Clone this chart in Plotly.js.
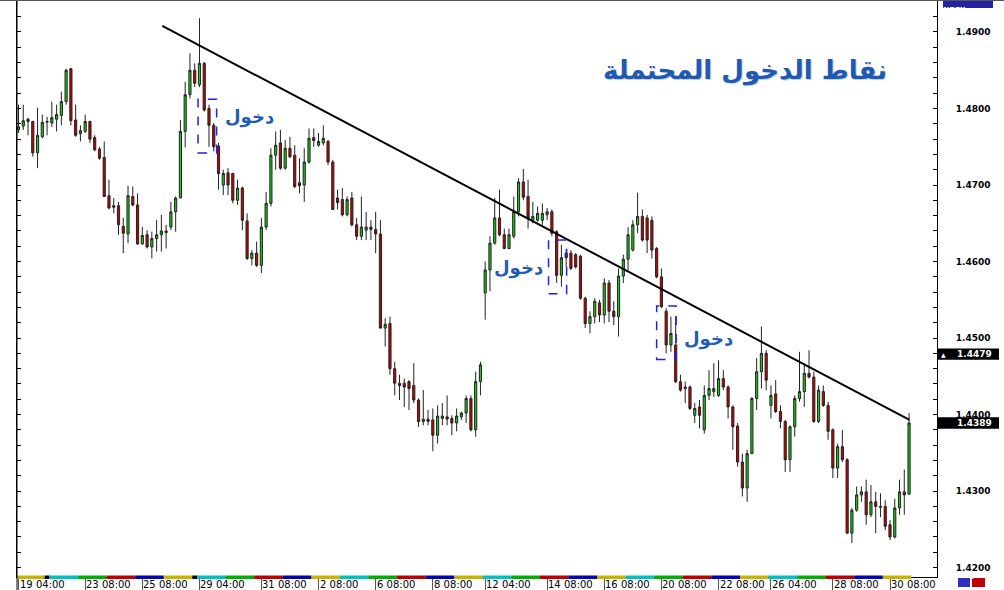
<!DOCTYPE html>
<html><head><meta charset="utf-8">
<script src="https://cdn.plot.ly/plotly-3.0.1.min.js"></script>
<style>html,body{margin:0;padding:0;background:#fff;}#chart{width:1004px;height:590px;}</style>
</head><body><div id="chart"></div>
<script>
// ---- data (H4 candles) ----
const openP = [
1.4772,1.4777,1.4786,1.4783,1.4742,1.4763,1.4782,1.4781,1.4786,1.4791,
1.4809,1.4852,1.4785,1.4767,1.4770,1.4783,1.4762,1.4747,1.4736,1.4686,
1.4673,1.4673,1.4646,1.4636,1.4685,1.4674,1.4623,1.4635,1.4619,1.4630,
1.4635,1.4640,1.4645,1.4665,1.4683,1.4770,1.4818,1.4850,1.4831,1.4859,
1.4800,1.4778,1.4751,1.4700,1.4716,1.4715,1.4680,1.4696,1.4653,1.4604,
1.4611,1.4595,1.4645,1.4676,1.4739,1.4755,1.4722,1.4748,1.4739,1.4703,
1.4700,1.4730,1.4762,1.4752,1.4755,1.4757,1.4730,1.4683,1.4681,1.4661,
1.4683,1.4648,1.4633,1.4641,1.4645,1.4642,1.4636,1.4513,1.4519,1.4460,
1.4441,1.4441,1.4443,1.4438,1.4419,1.4391,1.4394,1.4393,1.4373,1.4395,
1.4397,1.4395,1.4389,1.4397,1.4402,1.4421,1.4380,1.4443,1.4559,1.4589,
1.4624,1.4657,1.4635,1.4617,1.4633,1.4665,1.4704,1.4685,1.4654,1.4654,
1.4654,1.4661,1.4665,1.4639,1.4582,1.4611,1.4611,1.4609,1.4607,1.4552,
1.4519,1.4528,1.4546,1.4530,1.4572,1.4535,1.4528,1.4581,1.4603,1.4615,
1.4648,1.4659,1.4657,1.4654,1.4617,1.4580,1.4535,1.4491,1.4491,1.4443,
1.4436,1.4436,1.4399,1.4410,1.4380,1.4425,1.4430,1.4425,1.4447,1.4436,
1.4410,1.4385,1.4338,1.4304,1.4349,1.4421,1.4456,1.4480,1.4412,1.4427,
1.4404,1.4391,1.4341,1.4384,1.4421,1.4430,1.4454,1.4449,1.4391,1.4430,
1.4412,1.4380,1.4330,1.4358,1.4341,1.4245,1.4275,1.4295,1.4299,1.4269,
1.4286,1.4280,1.4280,1.4256,1.4240,1.4278,1.4299,1.4296];
const highP = [
1.4805,1.4805,1.4788,1.4784,1.4801,1.4792,1.4789,1.4809,1.4805,1.4822,
1.4852,1.4853,1.4805,1.4778,1.4792,1.4784,1.4765,1.4750,1.4757,1.4707,
1.4683,1.4678,1.4657,1.4699,1.4698,1.4689,1.4645,1.4641,1.4639,1.4654,
1.4661,1.4648,1.4678,1.4685,1.4785,1.4835,1.4872,1.4859,1.4918,1.4861,
1.4805,1.4781,1.4755,1.4720,1.4722,1.4716,1.4707,1.4698,1.4663,1.4615,
1.4626,1.4657,1.4691,1.4748,1.4770,1.4772,1.4759,1.4763,1.4752,1.4735,
1.4748,1.4774,1.4774,1.4768,1.4778,1.4759,1.4733,1.4694,1.4696,1.4685,
1.4691,1.4657,1.4685,1.4665,1.4654,1.4665,1.4654,1.4526,1.4528,1.4469,
1.4452,1.4447,1.4445,1.4467,1.4421,1.4432,1.4406,1.4408,1.4412,1.4415,
1.4425,1.4399,1.4408,1.4404,1.4425,1.4425,1.4456,1.4469,1.4600,1.4633,
1.4683,1.4694,1.4643,1.4643,1.4685,1.4709,1.4721,1.4707,1.4678,1.4672,
1.4676,1.4670,1.4668,1.4641,1.4622,1.4615,1.4615,1.4611,1.4609,1.4554,
1.4535,1.4552,1.4550,1.4578,1.4576,1.4548,1.4591,1.4609,1.4645,1.4654,
1.4690,1.4668,1.4661,1.4659,1.4619,1.4591,1.4539,1.4528,1.4528,1.4452,
1.4443,1.4438,1.4415,1.4419,1.4438,1.4458,1.4467,1.4471,1.4458,1.4438,
1.4412,1.4389,1.4349,1.4354,1.4423,1.4474,1.4515,1.4484,1.4438,1.4445,
1.4412,1.4393,1.4386,1.4425,1.4482,1.4467,1.4484,1.4456,1.4438,1.4438,
1.4417,1.4382,1.4362,1.4380,1.4343,1.4278,1.4306,1.4306,1.4315,1.4308,
1.4299,1.4297,1.4288,1.4262,1.4290,1.4315,1.4328,1.4402];
const lowP = [
1.4768,1.4772,1.4765,1.4737,1.4722,1.4761,1.4765,1.4776,1.4770,1.4778,
1.4805,1.4778,1.4763,1.4757,1.4768,1.4755,1.4744,1.4733,1.4685,1.4668,
1.4663,1.4635,1.4611,1.4624,1.4672,1.4622,1.4622,1.4617,1.4604,1.4613,
1.4613,1.4617,1.4641,1.4639,1.4683,1.4749,1.4813,1.4828,1.4828,1.4796,
1.4750,1.4744,1.4694,1.4687,1.4687,1.4676,1.4674,1.4641,1.4602,1.4595,
1.4593,1.4585,1.4641,1.4672,1.4720,1.4720,1.4720,1.4735,1.4696,1.4689,
1.4678,1.4728,1.4750,1.4750,1.4752,1.4726,1.4668,1.4668,1.4659,1.4659,
1.4646,1.4628,1.4628,1.4628,1.4628,1.4611,1.4513,1.4489,1.4452,1.4425,
1.4419,1.4410,1.4406,1.4415,1.4384,1.4386,1.4386,1.4352,1.4362,1.4386,
1.4386,1.4373,1.4378,1.4393,1.4389,1.4378,1.4371,1.4425,1.4524,1.4561,
1.4622,1.4633,1.4616,1.4616,1.4630,1.4659,1.4680,1.4643,1.4650,1.4652,
1.4648,1.4654,1.4633,1.4572,1.4567,1.4593,1.4589,1.4591,1.4550,1.4513,
1.4506,1.4519,1.4521,1.4519,1.4521,1.4517,1.4502,1.4572,1.4589,1.4613,
1.4637,1.4626,1.4611,1.4604,1.4578,1.4539,1.4480,1.4482,1.4441,1.4430,
1.4415,1.4406,1.4389,1.4382,1.4375,1.4419,1.4423,1.4423,1.4432,1.4395,
1.4354,1.4332,1.4293,1.4286,1.4349,1.4406,1.4434,1.4432,1.4395,1.4402,
1.4382,1.4325,1.4325,1.4371,1.4417,1.4410,1.4447,1.4389,1.4389,1.4410,
1.4367,1.4317,1.4317,1.4338,1.4245,1.4232,1.4273,1.4286,1.4256,1.4266,
1.4245,1.4266,1.4249,1.4236,1.4238,1.4269,1.4269,1.4296];
const closeP = [
1.4776,1.4784,1.4783,1.4742,1.4765,1.4782,1.4783,1.4788,1.4792,1.4809,
1.4850,1.4784,1.4765,1.4771,1.4783,1.4760,1.4746,1.4735,1.4685,1.4670,
1.4671,1.4648,1.4637,1.4686,1.4674,1.4623,1.4634,1.4619,1.4630,1.4635,
1.4640,1.4638,1.4665,1.4683,1.4770,1.4818,1.4850,1.4833,1.4859,1.4798,
1.4778,1.4750,1.4715,1.4715,1.4700,1.4680,1.4696,1.4654,1.4604,1.4611,
1.4595,1.4645,1.4676,1.4739,1.4752,1.4722,1.4748,1.4737,1.4698,1.4699,
1.4730,1.4761,1.4758,1.4757,1.4761,1.4730,1.4668,1.4677,1.4661,1.4681,
1.4648,1.4633,1.4645,1.4645,1.4642,1.4636,1.4513,1.4518,1.4460,1.4441,
1.4438,1.4436,1.4434,1.4419,1.4391,1.4394,1.4391,1.4373,1.4398,1.4398,
1.4394,1.4389,1.4398,1.4402,1.4421,1.4380,1.4443,1.4465,1.4589,1.4624,
1.4657,1.4635,1.4617,1.4635,1.4665,1.4704,1.4684,1.4657,1.4659,1.4663,
1.4663,1.4665,1.4637,1.4582,1.4605,1.4605,1.4591,1.4593,1.4552,1.4519,
1.4528,1.4548,1.4530,1.4572,1.4535,1.4528,1.4581,1.4603,1.4635,1.4648,
1.4659,1.4628,1.4628,1.4615,1.4580,1.4541,1.4491,1.4506,1.4443,1.4432,
1.4434,1.4408,1.4408,1.4399,1.4425,1.4434,1.4434,1.4447,1.4436,1.4410,
1.4384,1.4338,1.4304,1.4349,1.4421,1.4456,1.4480,1.4445,1.4425,1.4404,
1.4391,1.4341,1.4384,1.4421,1.4430,1.4454,1.4449,1.4391,1.4432,1.4412,
1.4378,1.4330,1.4358,1.4341,1.4245,1.4275,1.4295,1.4299,1.4269,1.4286,
1.4280,1.4279,1.4254,1.4240,1.4278,1.4299,1.4295,1.4389];

const timeLabels = ["19 04:00","23 08:00","25 08:00","29 04:00","31 08:00","2 08:00","6 08:00","8 08:00",
  "12 04:00","14 08:00","16 08:00","20 08:00","22 08:00","26 04:00","28 08:00","30 08:00"];
const timeLabelIndex = [0,14,26,38,51,63,75,87,98,111,123,135,147,158,171,183];
const priceTicks = [1.42,1.43,1.44,1.45,1.46,1.47,1.48,1.49];

// day-of-week sessions (colour strip), candles per session
const sessionColors = ['Y','K','C','G','R','B','Y','K','C','G','R','B',
  'Y','C','G','R','B','Y','C','G','R','B','Y','C','G','R','B','Y','C','G','R','B','Y'];
const sessionLengths = [6,1,6,6,6,6,6,1,6,6,6,6, 6,6,6,6,6,6,6,6,6,6,6,6,6,6,6,6,6,6,6,6,6];

const trendX = [30.2, 187.1];
const trendY = [1.4908, 1.4393];

const entryX0 = [37.7, 111.3, 134.0];
const entryX1 = [41.6, 115.1, 138.1];
const entryYTop = [1.4812, 1.4628, 1.4542];
const entryYBot = [1.4742, 1.4558, 1.4472];
const entryLabel = 'دخول';
const entryLabelX = [48.6, 105.0, 144.8];
const entryLabelY = [1.4789, 1.4592, 1.4499];

const chartTitle = 'نقاط الدخول المحتملة';
const titleX = 152.6, titleY = 1.4850;

const priceMarkers = [1.4479, 1.4389];
const symbolTag = 'INDEX';

// ---- drawing ----
const idx = closeP.map((_, i) => i);
const colorMap = {Y:'#c8b400', K:'#000000', C:'#00c0c0', G:'#00b000', R:'#c00000', B:'#0000b4'};
const plotH = 576, plotW = 920;

const shapes = [];
const annotations = [];

// colour strip
let start = 0;
sessionColors.forEach((c, k) => {
  const n = sessionLengths[k];
  shapes.push({type:'rect', xref:'x', yref:'paper', x0:start-0.5, x1:start+n-0.5,
    y0:-2/plotH, y1:1.5/plotH, fillcolor:colorMap[c], line:{width:0}, layer:'above'});
  start += n;
});

// entry boxes
entryX0.forEach((x0, k) => {
  shapes.push({type:'rect', xref:'x', yref:'y', x0:x0, x1:entryX1[k], y0:entryYBot[k], y1:entryYTop[k],
    line:{color:'#2020f0', width:1.5, dash:'dash'}, fillcolor:'rgba(0,0,0,0)', layer:'above'});
  annotations.push({x:entryLabelX[k], y:entryLabelY[k], xref:'x', yref:'y', text:entryLabel, showarrow:false,
    font:{family:'DejaVu Sans', size:18, weight:'bold', color:'#1f5db4'}});
});

// title
annotations.push({x:titleX, y:titleY, xref:'x', yref:'y', text:chartTitle, showarrow:false,
  font:{family:'DejaVu Sans', size:26, weight:'bold', color:'#1e5aaf', shadow:'1px 1px 1px #b8c8e8'}});

// time labels
timeLabels.forEach((t, k) => {
  annotations.push({x:timeLabelIndex[k], y:0, xref:'x', yref:'paper', xanchor:'left', yanchor:'middle',
    xshift:0, yshift:-7, borderpad:0, text:t, showarrow:false, font:{family:'DejaVu Sans', size:10, color:'#000'}});
});

// price markers on axis
priceMarkers.forEach((p, k) => {
  shapes.push({type:'rect', xref:'paper', yref:'y', x0:1+1/plotW, x1:1+62/plotW, y0:p-0.00075, y1:p+0.00075,
    fillcolor:'#000', line:{width:0}, layer:'above'});
  annotations.push({x:1, y:p, xref:'paper', yref:'y', xanchor:'left', xshift:18, text:p.toFixed(4), showarrow:false,
    font:{family:'DejaVu Sans', size:9, weight:'bold', color:'#fff'}});
  if (k === 0) annotations.push({x:1, y:p, xref:'paper', yref:'y', xanchor:'left', xshift:2, text:'▲', showarrow:false,
    font:{family:'DejaVu Sans', size:6, color:'#fff'}});
});

// INDEX tag
shapes.push({type:'rect', xref:'paper', yref:'paper', x0:(943-17)/plotW, x1:(993-17)/plotW, y0:1-7/plotH, y1:1+1/plotH,
  fillcolor:'#2424a0', line:{width:0}, layer:'above'});
annotations.push({x:(968-17)/plotW, y:1-3/plotH, xref:'paper', yref:'paper', text:symbolTag, showarrow:false,
  font:{family:'DejaVu Sans', size:7, weight:'bold', color:'#fff'}});

// nav buttons
shapes.push({type:'rect', xref:'paper', yref:'paper', x0:(958-17)/plotW, x1:(970-17)/plotW, y0:-10/plotH, y1:-1/plotH,
  fillcolor:'#3030c0', line:{width:0}});
shapes.push({type:'rect', xref:'paper', yref:'paper', x0:(972-17)/plotW, x1:(985-17)/plotW, y0:-10/plotH, y1:-1/plotH,
  fillcolor:'#c00000', line:{width:0}});
annotations.push({x:(964-17)/plotW, y:-5.5/plotH, xref:'paper', yref:'paper', text:'⇤', showarrow:false,
  font:{family:'DejaVu Sans', size:8, color:'#fff'}});
annotations.push({x:(978.5-17)/plotW, y:-5.5/plotH, xref:'paper', yref:'paper', text:'+', showarrow:false,
  font:{family:'DejaVu Sans', size:9, weight:'bold', color:'#fff'}});

// left border down to bottom
shapes.push({type:'line', xref:'paper', yref:'paper', x0:0, x1:0, y0:-13/plotH, y1:1, line:{color:'#000', width:1}});
// top border across
shapes.push({type:'line', xref:'paper', yref:'paper', x0:-17/plotW, x1:987/plotW, y0:1+0.5/plotH, y1:1+0.5/plotH, line:{color:'#555', width:1}});

const traces = [
  {type:'candlestick', x:idx, open:openP, high:highP, low:lowP, close:closeP,
   increasing:{line:{color:'#222', width:1}, fillcolor:'#10d010'},
   decreasing:{line:{color:'#222', width:1}, fillcolor:'#c80000'},
   whiskerwidth:0, hoverinfo:'skip', showlegend:false},
  {type:'scatter', mode:'lines', x:trendX, y:trendY, line:{color:'#000', width:2}, hoverinfo:'skip', showlegend:false}
];

const layout = {
  width:1004, height:590,
  margin:{l:17, r:67, t:1, b:13, pad:0},
  paper_bgcolor:'#fff', plot_bgcolor:'#fff',
  showlegend:false,
  boxgap:0.35,
  xaxis:{type:'linear', range:[-0.315, 192.87], rangeslider:{visible:false}, showgrid:false, zeroline:false,
    showline:true, linecolor:'#000', linewidth:1, mirror:true,
    tickmode:'array', tickvals:timeLabelIndex, ticktext:timeLabels.map(()=>''), ticks:'outside', ticklen:13,
    tickcolor:'#555', tickwidth:1, showticklabels:false, fixedrange:true},
  yaxis:{side:'right', range:[1.41877, 1.49405], showgrid:false, zeroline:false,
    showline:true, linecolor:'#000', linewidth:1, mirror:'ticks',
    tickmode:'array', tickvals:priceTicks, ticktext:priceTicks.map(v=>v.toFixed(4)),
    ticks:'inside', ticklen:4, tickcolor:'#000', tickwidth:1,
    minor:{dtick:0.002, tick0:1.42, ticks:'inside', ticklen:4, tickcolor:'#000', tickwidth:1, showgrid:false},
    ticklabelstandoff:16,
    tickfont:{family:'DejaVu Sans', size:9, weight:'bold', color:'#000'}, fixedrange:true},
  shapes:shapes,
  annotations:annotations
};

Plotly.newPlot('chart', traces, layout, {staticPlot:true, displayModeBar:false});
</script>
</body></html>
